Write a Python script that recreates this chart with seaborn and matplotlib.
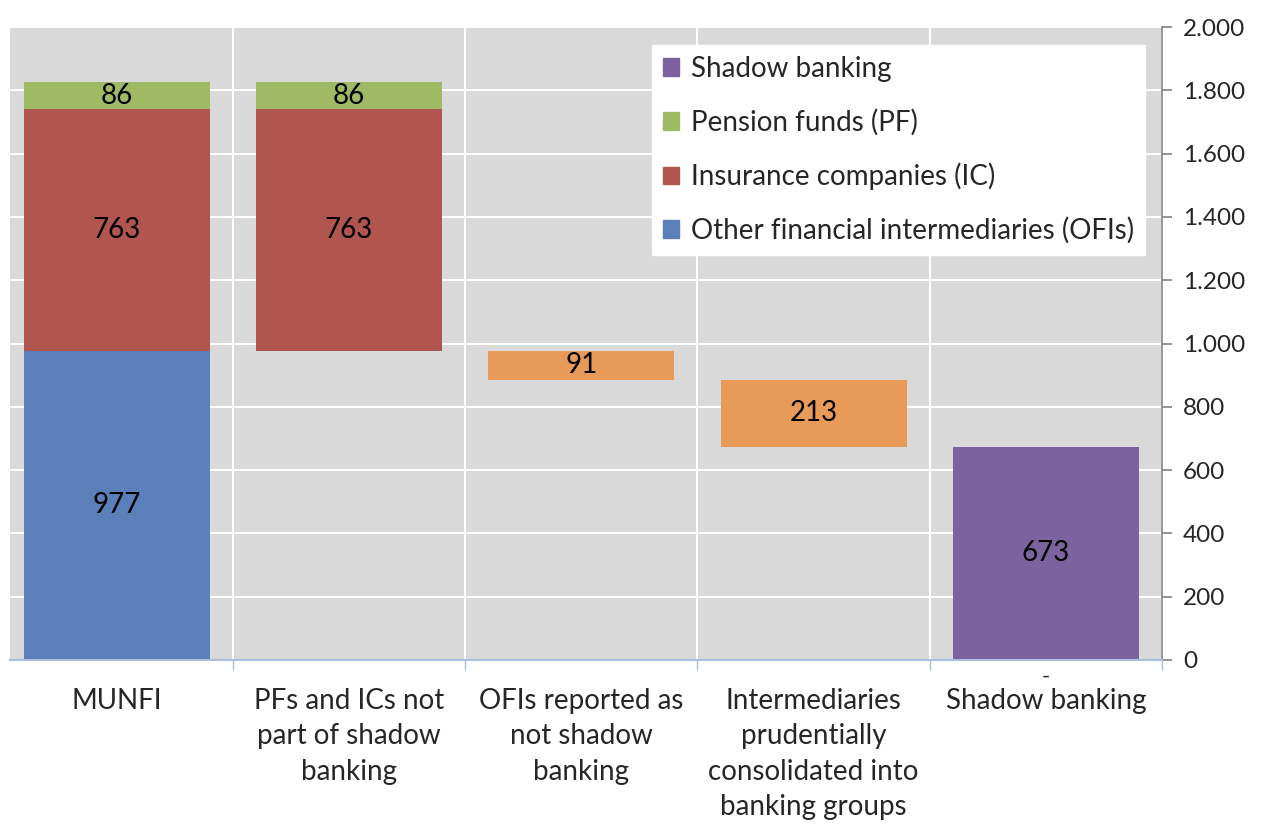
"""
MUNFI -> shadow banking waterfall (stacked bars, right-hand axis)
"""
import numpy as np
import pandas as pd
import matplotlib
matplotlib.use('Agg')
import matplotlib.pyplot as plt
import seaborn as sns
from matplotlib.ticker import FuncFormatter, MultipleLocator
from matplotlib.patches import Patch

# ---- data ----
categories = ['MUNFI',
              'PFs and ICs not\npart of shadow\nbanking',
              'OFIs reported as\nnot shadow\nbanking',
              'Intermediaries\nprudentially\nconsolidated into\nbanking groups',
              'Shadow banking']
ofis_munfi = 977
ic_value = 763
pf_value = 86
deductions = [91, 213]          # OFIs reported as not SB, consolidated
shadow_banking = 673

legend_labels = ['Shadow banking', 'Pension funds (PF)',
                 'Insurance companies (IC)', 'Other financial intermediaries (OFIs)']

colors = {'ofi': '#5b7fb8', 'ic': '#b0564e', 'pf': '#a0b964',
          'ded': '#e89a58', 'sb': '#7c63a0'}

# ---- build segment table (category, series, value, bottom) ----
rows = [(categories[0], 'ofi', ofis_munfi, 0),
        (categories[0], 'ic', ic_value, ofis_munfi),
        (categories[0], 'pf', pf_value, ofis_munfi + ic_value),
        (categories[1], 'ic', ic_value, ofis_munfi),
        (categories[1], 'pf', pf_value, ofis_munfi + ic_value)]
level = ofis_munfi
for cat, v in zip(categories[2:4], deductions):
    level -= v
    rows.append((cat, 'ded', v, level))
rows.append((categories[4], 'sb', shadow_banking, 0))
df = pd.DataFrame(rows, columns=['cat', 'series', 'value', 'bottom'])

sns.set_theme(style='white')
plt.rcParams['font.family'] = ['Lato', 'DejaVu Sans']
FS = 20

fig = plt.figure(figsize=(12.64, 8.25), dpi=100)
ax = fig.add_axes([10 / 1264, 1 - 660 / 825, 1152 / 1264, 633 / 825])
ax.set_facecolor('#d9d9d9')

for s in ['ofi', 'ic', 'pf', 'ded', 'sb']:
    sub = df[df['series'] == s]
    sns.barplot(data=sub, x='cat', y='value', order=categories, color=colors[s],
                saturation=1, width=0.8, errorbar=None,
                bottom=sub['bottom'].to_numpy(), linewidth=0, ax=ax)
    ax.bar_label(ax.containers[-1], labels=[f'{v:.0f}' for v in sub['value']],
                 label_type='center', fontsize=FS, color='black')

# zero label under shadow banking bar
ax.annotate('-', xy=(4, 0), xytext=(0, -12), textcoords='offset points',
            ha='center', va='center', fontsize=FS - 4)

ax.set_xlim(-0.46, 4.5)
ax.set_ylim(0, 2000)
ax.set_xlabel('')
ax.set_ylabel('')

# axes styling
ax.yaxis.tick_right()
ax.yaxis.set_major_locator(MultipleLocator(200))
ax.yaxis.set_major_formatter(FuncFormatter(lambda v, p: f'{v:,.0f}'.replace(',', '.')))
ax.tick_params(axis='y', which='major', length=7, color='#868686', direction='out',
               labelsize=17.5, pad=8, right=True, left=False)
ax.set_xticks(np.arange(len(categories)))
ax.set_xticklabels(categories, fontsize=FS, linespacing=1.45)
ax.set_xticks([0.5, 1.5, 2.5, 3.5, 4.5], minor=True)
ax.tick_params(axis='x', which='major', length=0, pad=20)
ax.tick_params(axis='x', which='minor', length=7, color='#a9bfe0', direction='out',
               bottom=True)

ax.set_axisbelow(True)
ax.grid(axis='y', which='major', color='white', linewidth=1.5)
ax.grid(axis='x', which='minor', color='white', linewidth=1.5)
ax.grid(axis='x', which='major', visible=False)

for side in ['top', 'left']:
    ax.spines[side].set_visible(False)
ax.spines['right'].set_color('#868686')
ax.spines['right'].set_linewidth(1.2)
ax.spines['bottom'].set_color('#a9bfe0')
ax.spines['bottom'].set_linewidth(1.5)

handles = [Patch(color=colors[k]) for k in ['sb', 'pf', 'ic', 'ofi']]
leg = ax.legend(handles, legend_labels, loc='upper left', bbox_to_anchor=(0.557, 0.972),
                borderaxespad=0, frameon=True, fancybox=False, framealpha=1,
                edgecolor='white', facecolor='white', fontsize=FS,
                handlelength=0.6, handleheight=0.6, handletextpad=0.4,
                labelspacing=0.97, borderpad=0.4)

fig.savefig('out.png', dpi=100)
